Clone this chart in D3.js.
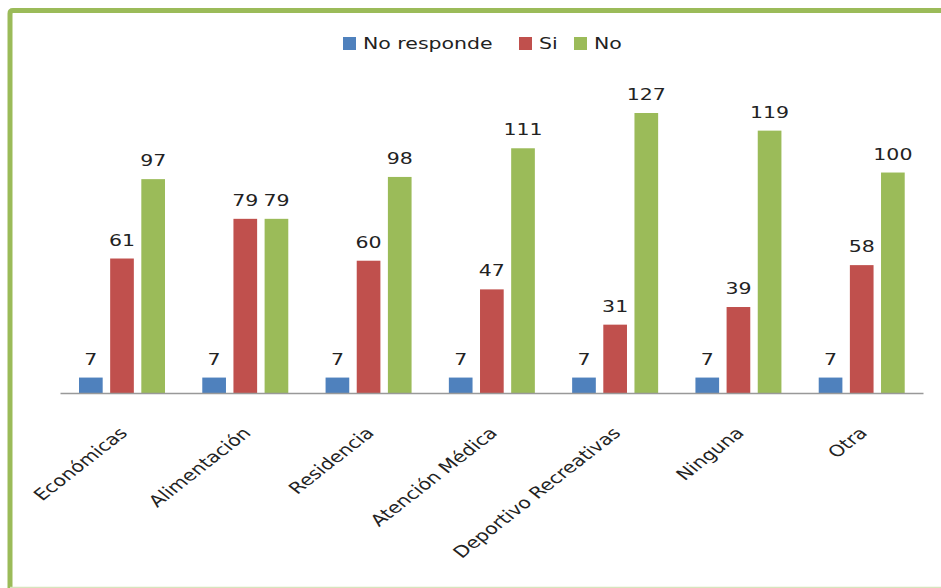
<!DOCTYPE html>
<html>
<head>
<meta charset="utf-8">
<script src="https://cdn.jsdelivr.net/npm/d3@7"></script>
<style>
	body { margin: 0; background: #fff; overflow: hidden; }
	svg { display: block; }
	text { font-family: "DejaVu Sans", Verdana, sans-serif; fill: #222; }
</style>
</head>
<body>
<svg></svg>
<script>
const categories = ["Económicas", "Alimentación", "Residencia", "Atención Médica", "Deportivo Recreativas", "Ninguna", "Otra"];
const seriesNames = ["No responde", "Si", "No"];
const noResponde = [7, 7, 7, 7, 7, 7, 7];
const si = [61, 79, 60, 47, 31, 39, 58];
const no = [97, 79, 98, 111, 127, 119, 100];
const colors = ["#4f81bd", "#c0504d", "#9bbb59"];

const SVGsize = { w: 941, h: 588 };
const plot = { l: 60, r: 923, t: 113, b: 393 };
// the source picture is stretched sideways, so text is widened to match
const stretch = 1.28;

const svg = d3.select("svg").attr("width", SVGsize.w).attr("height", SVGsize.h);

// green frame round the chart, its right side runs off the page
svg.append("path")
	.attr("d", "M 960 10.5 L 13 10.5 Q 10 10.5 10 13.5 L 10 590")
	.attr("fill", "none")
	.attr("stroke", "#9bbb59")
	.attr("stroke-width", 5);
svg.append("line")
	.attr("x1", 10).attr("x2", 960)
	.attr("y1", 587.5).attr("y2", 587.5)
	.attr("stroke", "#d7e4bd")
	.attr("stroke-width", 1.5);

const table = categories.map((c, i) => ({
	cat: c,
	values: [noResponde[i], si[i], no[i]],
}));

const scaleX = d3.scaleBand().domain(categories).range([plot.l, plot.r]);
const scaleSeries = d3
	.scaleBand()
	.domain(seriesNames)
	.range([19, 19 + 86])
	.paddingInner(0.24);
const scaleY = d3.scaleLinear().domain([0, 127]).range([plot.b, plot.t]);

const groups = svg
	.selectAll(".group")
	.data(table)
	.join("g")
	.attr("class", "group")
	.attr("transform", (d) => `translate(${scaleX(d.cat)}, 0)`);

groups
	.selectAll("rect")
	.data((d) => d.values.map((v, j) => ({ v, s: seriesNames[j], j })))
	.join("rect")
	.attr("x", (d) => scaleSeries(d.s))
	.attr("width", scaleSeries.bandwidth())
	.attr("y", (d) => scaleY(d.v))
	.attr("height", (d) => scaleY(0) - scaleY(d.v))
	.attr("fill", (d) => colors[d.j]);

groups
	.selectAll(".val")
	.data((d) => d.values.map((v, j) => ({ v, s: seriesNames[j] })))
	.join("text")
	.attr("class", "val")
	.attr("text-anchor", "middle")
	.attr("font-size", 16)
	.attr("transform", (d) => `translate(${scaleSeries(d.s) + scaleSeries.bandwidth() / 2}, ${scaleY(d.v) - 13}) scale(${stretch}, 1)`)
	.text((d) => d.v);

// x axis line
const axisX = d3.axisBottom(scaleX).tickSize(0).tickFormat("");
svg.append("g")
	.attr("transform", `translate(0, ${plot.b})`)
	.call(axisX)
	.call((g) => g.select(".domain").attr("stroke", "#999").attr("stroke-width", 1.5));

svg.selectAll(".cat")
	.data(categories)
	.join("text")
	.attr("class", "cat")
	.attr("text-anchor", "end")
	.attr("font-size", 16)
	.attr("transform", (d) => `translate(${scaleX(d) + scaleX.bandwidth() / 2 + 7}, ${plot.b + 41}) scale(${stretch}, 1) rotate(-45)`)
	.text((d) => d);

// legend
const legendX = [343, 519, 574];
const legend = svg
	.selectAll(".legend")
	.data(seriesNames)
	.join("g")
	.attr("class", "legend")
	.attr("transform", (d, i) => `translate(${legendX[i]}, 37)`);
legend.append("rect").attr("width", 13).attr("height", 13).attr("fill", (d, i) => colors[i]);
legend.append("text")
	.attr("font-size", 16)
	.attr("transform", `translate(20, 12) scale(${stretch}, 1)`)
	.text((d) => d);
</script>
</body>
</html>
